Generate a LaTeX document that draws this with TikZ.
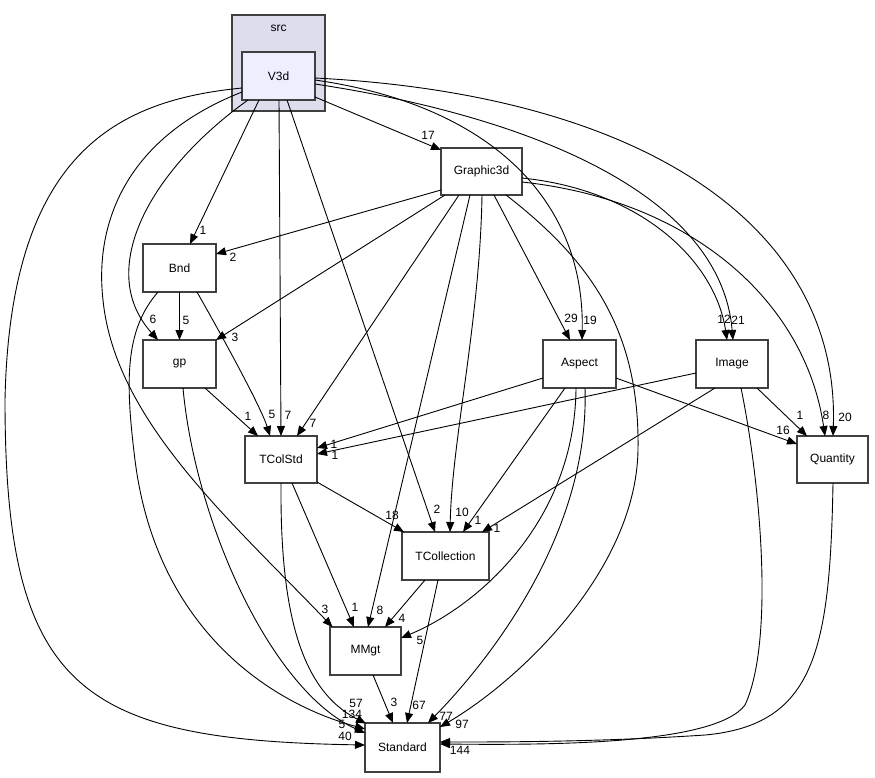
\documentclass[tikz,border=0pt]{standalone}
\usepackage{fontspec}
\setmainfont{Liberation Sans}
\usetikzlibrary{arrows.meta,calc}
\definecolor{bordergray}{RGB}{64,64,64}
\definecolor{clusterfill}{RGB}{221,221,238}
\definecolor{v3dfill}{RGB}{238,238,255}
\tikzset{
  box/.style={draw=bordergray, line width=1.3pt, fill=white, inner sep=0pt,
    font=\fontsize{12}{14}\selectfont},
  lbl/.style={inner sep=0pt, font=\fontsize{12}{14}\selectfont},
  dep/.style={-{Triangle[length=10pt,width=8pt]}, line width=0.9pt, black},
}
\begin{document}
\begin{tikzpicture}[x=1pt,y=-1pt]
\useasboundingbox (0,0) rectangle (875,777);
% cluster
\node[box, fill=clusterfill, minimum width=93pt, minimum height=96pt] (src) at (278.5,63) {};
\node[lbl] (srclbl) at (278.5,28) {src};
% nodes
\node[box, fill=v3dfill, minimum width=73pt, minimum height=48pt] (V3d) at (278.5,76) {V3d};
\node[box, minimum width=81pt, minimum height=47pt] (G3d) at (481.5,171.5) {Graphic3d};
\node[box, minimum width=73pt, minimum height=48pt] (Bnd) at (179.5,268) {Bnd};
\node[box, minimum width=73pt, minimum height=48pt] (gp) at (179.5,364) {gp};
\node[box, minimum width=73pt, minimum height=48pt] (Asp) at (579.5,364) {Aspect};
\node[box, minimum width=72pt, minimum height=48pt] (Img) at (732,364) {Image};
\node[box, minimum width=72pt, minimum height=47pt] (TCS) at (281,459.5) {TColStd};
\node[box, minimum width=87pt, minimum height=48pt] (TCo) at (445.5,556) {TCollection};
\node[box, minimum width=71pt, minimum height=48pt] (MM) at (365.5,651) {MMgt};
\node[box, minimum width=75pt, minimum height=49pt] (Std) at (402.5,747.5) {Standard};
\node[box, minimum width=71pt, minimum height=47pt] (Qty) at (832.5,459.5) {Quantity};

% labels
\node[lbl] (l1) at (345,736) {40};
\node[lbl] (l2) at (325,609) {3};
\node[lbl] (l3) at (153,319) {6};
\node[lbl] (l4) at (203,230) {1};
\node[lbl] (l5) at (288,415) {7};
\node[lbl] (l6) at (437,509) {2};
\node[lbl] (l7) at (428,135) {17};
\node[lbl] (l8) at (590,320) {19};
\node[lbl] (l9) at (738,320) {21};
\node[lbl] (l10) at (845,417) {20};
\node[lbl] (l11) at (233,257) {2};
\node[lbl] (l12) at (235,337) {3};
\node[lbl] (l13) at (313,423) {7};
\node[lbl] (l14) at (380,610) {8};
\node[lbl] (l15) at (462,512) {10};
\node[lbl] (l16) at (571,318) {29};
\node[lbl] (l17) at (462,724) {97};
\node[lbl] (l18) at (724,319) {12};
\node[lbl] (l19) at (826,415) {8};
\node[lbl] (l20) at (186,320) {5};
\node[lbl] (l21) at (272,414) {5};
\node[lbl] (l22) at (352,714) {134};
\node[lbl] (l23) at (248,416) {1};
\node[lbl] (l24) at (342,724) {5};
\node[lbl] (l25) at (392,515) {18};
\node[lbl] (l26) at (355,607) {1};
\node[lbl] (l27) at (356,703) {57};
\node[lbl] (l28) at (334,444) {1};
\node[lbl] (l29) at (478,520) {1};
\node[lbl] (l30) at (420,640) {5};
\node[lbl] (l31) at (446,716) {77};
\node[lbl] (l32) at (783,430) {16};
\node[lbl] (l33) at (335,455) {1};
\node[lbl] (l34) at (497,528) {1};
\node[lbl] (l35) at (800,415) {1};
\node[lbl] (l36) at (460,750) {144};
\node[lbl] (l37) at (402,618) {4};
\node[lbl] (l38) at (419,705) {67};
\node[lbl] (l39) at (394,702) {3};

% edges from V3d
\draw[dep] ($(V3d)+(-36.5,12)$) .. controls (120,100) and (10,150) .. (5,400)
  .. controls (5,690) and (80,740) .. ($(Std)+(-37.5,-2.5)$);
\draw[dep] ($(V3d)+(-36.5,16)$) .. controls (120,140) and (95,230) .. (103,300)
  .. controls (115,420) and (230,520) .. ($(MM)+(-33,-24)$);
\draw[dep] ($(V3d)+(-30.5,24)$) .. controls (150,170) and (95,270) .. ($(gp)+(-21.5,-24)$);
\draw[dep] ($(V3d)+(-19.5,24)$) -- ($(Bnd)+(10.5,-24)$);
\draw[dep] ($(V3d)+(0.5,24)$) -- ($(TCS)+(0,-23.5)$);
\draw[dep] ($(V3d)+(8.5,24)$) -- ($(TCo)+(-10.5,-24)$);
\draw[dep] ($(V3d)+(36.5,21)$) -- ($(G3d)+(-40.5,-21.5)$);
\draw[dep] ($(V3d)+(36.5,4)$) .. controls (490,105) and (585,200) .. ($(Asp)+(2.5,-24)$);
\draw[dep] ($(V3d)+(36.5,8)$) .. controls (520,115) and (720,190) .. ($(Img)+(1,-24)$);
\draw[dep] ($(V3d)+(36.5,2)$) .. controls (650,95) and (840,230) .. ($(Qty)+(0.5,-23.5)$);
% edges from Graphic3d
\draw[dep] ($(G3d)+(-40.5,18.5)$) -- ($(Bnd)+(36.5,-14)$);
\draw[dep] ($(G3d)+(-36.5,23.5)$) -- ($(gp)+(36.5,-24)$);
\draw[dep] ($(G3d)+(-22.5,23.5)$) -- ($(TCS)+(16,-23.5)$);
\draw[dep] ($(G3d)+(-11.5,23.5)$) -- ($(MM)+(2.5,-24)$);
\draw[dep] ($(G3d)+(0.5,23.5)$) .. controls (480,320) and (452,440) .. ($(TCo)+(4.5,-24)$);
\draw[dep] ($(G3d)+(12.5,23.5)$) -- ($(Asp)+(-9.5,-24)$);
\draw[dep] ($(G3d)+(24.5,23.5)$) .. controls (590,260) and (640,330) .. (638,450)
  .. controls (636,570) and (520,680) .. ($(Std)+(37.5,-20.5)$);
\draw[dep] ($(G3d)+(40.5,6.5)$) .. controls (640,190) and (715,260) .. ($(Img)+(-5,-24)$);
\draw[dep] ($(G3d)+(40.5,10.5)$) .. controls (690,200) and (805,300) .. ($(Qty)+(-7.5,-23.5)$);
% edges from Bnd
\draw[dep] ($(Bnd)+(0,24)$) -- ($(gp)+(0,-24)$);
\draw[dep] ($(Bnd)+(17.5,24)$) .. controls (230,350) and (262,410) .. ($(TCS)+(-11,-23.5)$);
\draw[dep] ($(Bnd)+(-21.5,24)$) .. controls (125,330) and (125,380) .. (135,460)
  .. controls (155,620) and (260,700) .. ($(Std)+(-37.5,-18.5)$);
% edges from gp
\draw[dep] ($(gp)+(25.5,24)$) -- ($(TCS)+(-23,-23.5)$);
\draw[dep] ($(gp)+(3.5,24)$) .. controls (195,520) and (270,690) .. ($(Std)+(-37.5,-14.5)$);
% edges from TColStd
\draw[dep] ($(TCS)+(36,22.5)$) -- ($(TCo)+(-41.5,-24)$);
\draw[dep] ($(TCS)+(11,23.5)$) -- ($(MM)+(-11.5,-24)$);
\draw[dep] ($(TCS)+(0,23.5)$) .. controls (280,610) and (300,690) .. ($(Std)+(-36.5,-24)$);
% edges from Aspect
\draw[dep] ($(Asp)+(-36.5,14)$) -- ($(TCS)+(36,-11.5)$);
\draw[dep] ($(Asp)+(-14.5,24)$) -- ($(TCo)+(17.5,-24)$);
\draw[dep] ($(Asp)+(-3.5,24)$) .. controls (575,520) and (480,605) .. ($(MM)+(35.5,-13)$);
\draw[dep] ($(Asp)+(5.5,24)$) .. controls (590,540) and (480,670) .. ($(Std)+(25.5,-24.5)$);
\draw[dep] ($(Asp)+(36.5,14)$) -- ($(Qty)+(-35.5,-15.5)$);
% edges from Image
\draw[dep] ($(Img)+(-36,9)$) -- ($(TCS)+(36,-5.5)$);
\draw[dep] ($(Img)+(-17,24)$) -- ($(TCo)+(36.5,-24)$);
\draw[dep] ($(Img)+(25,24)$) -- ($(Qty)+(-25.5,-23.5)$);
\draw[dep] ($(Img)+(9,24)$) .. controls (760,480) and (775,640) .. (745,705)
  .. controls (715,745) and (550,745) .. ($(Std)+(37.5,-3.5)$);
% edges from Quantity
\draw[dep] ($(Qty)+(0.5,23.5)$) .. controls (830,650) and (815,725) .. (705,735)
  .. controls (600,742) and (500,742) .. ($(Std)+(37.5,-5.5)$);
% edges from TCollection
\draw[dep] ($(TCo)+(-20.5,24)$) -- ($(MM)+(19.5,-24)$);
\draw[dep] ($(TCo)+(-7.5,24)$) -- ($(Std)+(4.5,-24.5)$);
% edge from MMgt
\draw[dep] ($(MM)+(7.5,24)$) -- ($(Std)+(-9.5,-24.5)$);
\end{tikzpicture}
\end{document}
